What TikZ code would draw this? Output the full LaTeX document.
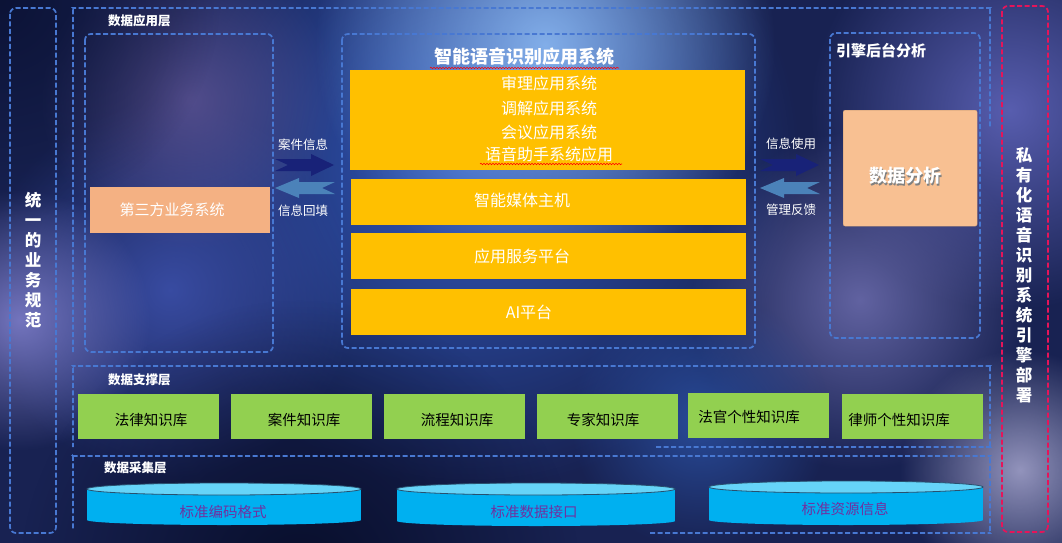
\documentclass[tikz,border=0pt]{standalone}
\usepackage{fontspec}
\setmainfont{Noto Sans CJK SC}
\usetikzlibrary{fadings,decorations.pathmorphing}
\tikzfading[name=fuzzy, inner color=transparent!0, outer color=transparent!100]
\definecolor{bgbase}{RGB}{24,34,82}
\definecolor{dashblue}{RGB}{72,120,210}
\definecolor{dashred}{RGB}{230,20,90}
\definecolor{yel}{RGB}{255,192,0}
\definecolor{grn}{RGB}{146,208,80}
\definecolor{salmon}{RGB}{244,177,131}
\definecolor{peach}{RGB}{248,192,146}
\definecolor{cylbody}{RGB}{0,176,240}
\definecolor{cyltop}{RGB}{102,212,248}
\definecolor{cylline}{RGB}{40,80,110}
\definecolor{purp}{RGB}{112,48,160}
\definecolor{darr}{RGB}{24,34,120}
\definecolor{larr}{RGB}{75,130,185}
\definecolor{b1}{RGB}{50,90,190}
\definecolor{b2}{RGB}{135,180,238}
\definecolor{b3}{RGB}{95,85,150}
\definecolor{b4}{RGB}{125,125,200}
\definecolor{b5}{RGB}{60,80,170}
\definecolor{b6}{RGB}{95,100,185}
\definecolor{b7}{RGB}{110,110,175}
\definecolor{b8}{RGB}{45,85,170}
\definecolor{b9}{RGB}{160,160,200}
\definecolor{b10}{RGB}{5,10,35}
\definecolor{b11}{RGB}{8,14,45}
\newcommand\mycyl[4]{%
  \fill[cylbody] ({#1-#2},#3) rectangle ({#1+#2},#4);
  \fill[cylbody] (#1,#4) ellipse [x radius=#2pt, y radius=5pt];
  \filldraw[fill=cyltop, draw=cylline, line width=0.8pt] (#1,#3) ellipse [x radius=#2pt, y radius=6pt];}
\newcommand\myarrows{%
  \fill[darr] (0,4) -- (36,4) -- (36,-1) -- (59,10) -- (36,21) -- (36,16) -- (0,16) -- (13,10) -- cycle;
  \fill[larr] (0,33) -- (24,23) -- (24,27) -- (60,27) -- (47,33) -- (60,39) -- (24,39) -- (24,43) -- cycle;}
\tikzset{
  dbox/.style={draw=dashblue, line width=1.7pt, dash pattern=on 5pt off 2.5pt, rounded corners=6pt},
  rbox/.style={draw=dashred, line width=1.7pt, dash pattern=on 5pt off 2.5pt, rounded corners=6pt},
  blob/.style={path fading=fuzzy},
  ybox/.style={fill=yel, inner sep=0pt, anchor=north west},
  gbox/.style={fill=grn, inner sep=0pt, anchor=north west, minimum height=45pt, minimum width=141pt},
  layerlbl/.style={text=white, font=\bfseries\fontsize{12.5}{14}\selectfont, inner sep=0pt},
  ytext/.style={text=white, font=\fontsize{16}{24.5}\selectfont, inner sep=0pt, align=center},
  gtext/.style={text=black, font=\fontsize{14.5}{16}\selectfont, inner sep=0pt},
  atext/.style={text=white, font=\fontsize{12.5}{14}\selectfont, inner sep=0pt},
  vtext/.style={text=white, font=\bfseries\fontsize{16.5}{20}\selectfont, inner sep=0pt, align=center},
  ctext/.style={text=purp, font=\fontsize{14.5}{16}\selectfont, inner sep=0pt},
  wavy/.style={draw=red, line width=0.6pt, decorate, decoration={snake, amplitude=0.7pt, segment length=3pt}}
}
\begin{document}
\begin{tikzpicture}[x=1pt, y=-1pt]
\useasboundingbox (0,0) rectangle (1062,543);
% background
\fill[bgbase] (0,0) rectangle (1062,543);
\fill[b1, blob, opacity=1] (470,160) circle (330);
\fill[b5, blob, opacity=0.9] (170,290) circle (190);
\fill[b2, blob, opacity=0.95] (545,45) circle (230);
\fill[b3, blob, opacity=0.8] (190,100) circle (150);
\fill[b4, blob, opacity=0.9] (20,320) circle (130);
\fill[b6, blob, opacity=0.9] (1010,110) circle (200);
\fill[b7, blob, opacity=0.85] (860,300) circle (170);
\fill[b8, blob, opacity=0.8] (700,420) circle (130);
\fill[b9, blob, opacity=0.9] (1020,470) circle (120);
\fill[b10, blob, opacity=0.85] (300,580) circle (280);
\fill[b11, blob, opacity=0.75] (0,0) circle (220);

% left column
\draw[dbox] (10,8) rectangle (56,533);
\node[vtext] (uni) at (33,260) {统\\一\\的\\业\\务\\规\\范};

% right red column
\draw[rbox] (1002,6) rectangle (1048,532);
\node[vtext] (priv) at (1024,275) {私\\有\\化\\语\\音\\识\\别\\系\\统\\引\\擎\\部\\署};

% application layer
\draw[dbox] (73,352) -- (73,14) arc[start angle=180, end angle=90, radius=6pt] -- (984,8) arc[start angle=90, end angle=0, radius=6pt] -- (990,127);
\node[layerlbl, anchor=west] (applbl) at (108,21) {数据应用层};

\draw[dbox] (85,34) rectangle (273,352);
\node[fill=salmon, minimum width=180pt, minimum height=46pt, inner sep=0pt, anchor=north west] (third) at (90,187) {};
\node[text=white, font=\fontsize{15}{17}\selectfont, inner sep=0pt] (thirdt) at (172,210) {第三方业务系统};

\begin{scope}[shift={(275,155)}]\myarrows\end{scope}
\node[atext] (a1) at (303,145) {案件信息};
\node[atext] (a2) at (303,211) {信息回填};

% center system
\draw[dbox] (342,34) rectangle (755,348);
\node[text=white, font=\bfseries\fontsize{18}{20}\selectfont, inner sep=0pt] (sysT) at (524,57) {智能语音识别应用系统};
\draw[wavy] (430,68) -- (619,68);
\node[ybox, minimum width=395pt, minimum height=100pt] (y1) at (350,70) {};
\node[ytext] (y1t) at (549,119) {审理应用系统\\调解应用系统\\会议应用系统\\[-3pt]语音助手系统应用};
\draw[wavy] (480,164) -- (622,164);
\node[ybox, minimum width=395pt, minimum height=46pt] (y2) at (351,179) {};
\node[ytext] (y2t) at (522,200) {智能媒体主机};
\node[ybox, minimum width=395pt, minimum height=46pt] (y3) at (351,233) {};
\node[ytext] (y3t) at (522,256) {应用服务平台};
\node[ybox, minimum width=395pt, minimum height=46pt] (y4) at (351,289) {};
\node[ytext] (y4t) at (529,312) {AI平台};

\begin{scope}[shift={(760,155)}]\myarrows\end{scope}
\node[atext] (a3) at (791,144) {信息使用};
\node[atext] (a4) at (791,210) {管理反馈};

% engine analysis
\draw[dbox] (830,33) rectangle (980,338);
\node[text=white, font=\bfseries\fontsize{15}{17}\selectfont, inner sep=0pt, anchor=west] (engT) at (836,51) {引擎后台分析};
\node[fill=peach, draw=peach!80!black, line width=0.3pt, rounded corners=2pt, minimum width=134pt, minimum height=116pt, inner sep=0pt, anchor=north west] (da) at (843,110) {};
\node[text=black!50, font=\bfseries\fontsize{18}{20}\selectfont, inner sep=0pt] (dats) at (906.5,177.5) {数据分析};
\node[text=white, font=\bfseries\fontsize{18}{20}\selectfont, inner sep=0pt] (dat) at (905,176) {数据分析};

% support layer
\draw[dbox] (656,447) -- (984,447) arc[start angle=-90, end angle=0, radius=6pt] -- (990,372) arc[start angle=0, end angle=90, radius=6pt] -- (79,366) arc[start angle=90, end angle=180, radius=6pt] -- (73,447);
\node[layerlbl, anchor=west] (suplbl) at (108,380) {数据支撑层};
\node[gbox] (g1) at (78,394) {};
\node[gtext] (g1t) at (151,420) {法律知识库};
\node[gbox] (g2) at (231,394) {};
\node[gtext] (g2t) at (304,420) {案件知识库};
\node[gbox] (g3) at (384,394) {};
\node[gtext] (g3t) at (457,420) {流程知识库};
\node[gbox] (g4) at (537,394) {};
\node[gtext] (g4t) at (603,420) {专家知识库};
\node[gbox] (g5) at (688,393) {};
\node[gtext] (g5t) at (749,417) {法官个性知识库};
\node[gbox] (g6) at (842,394) {};
\node[gtext] (g6t) at (899,420) {律师个性知识库};

% collection layer
\draw[dbox] (650,533) -- (984,533) arc[start angle=-90, end angle=0, radius=6pt] -- (990,462) arc[start angle=0, end angle=90, radius=6pt] -- (79,456) arc[start angle=90, end angle=180, radius=6pt] -- (73,530);
\node[layerlbl, anchor=west] (collbl) at (104,468) {数据采集层};
\mycyl{224}{137}{489}{520}
\node[ctext] (c1) at (223,512) {标准编码格式};
\mycyl{536}{139}{489}{521}
\node[ctext] (c2) at (534,512) {标准数据接口};
\mycyl{846}{137}{487}{520}
\node[ctext] (c3) at (845,509) {标准资源信息};
\end{tikzpicture}
\end{document}
